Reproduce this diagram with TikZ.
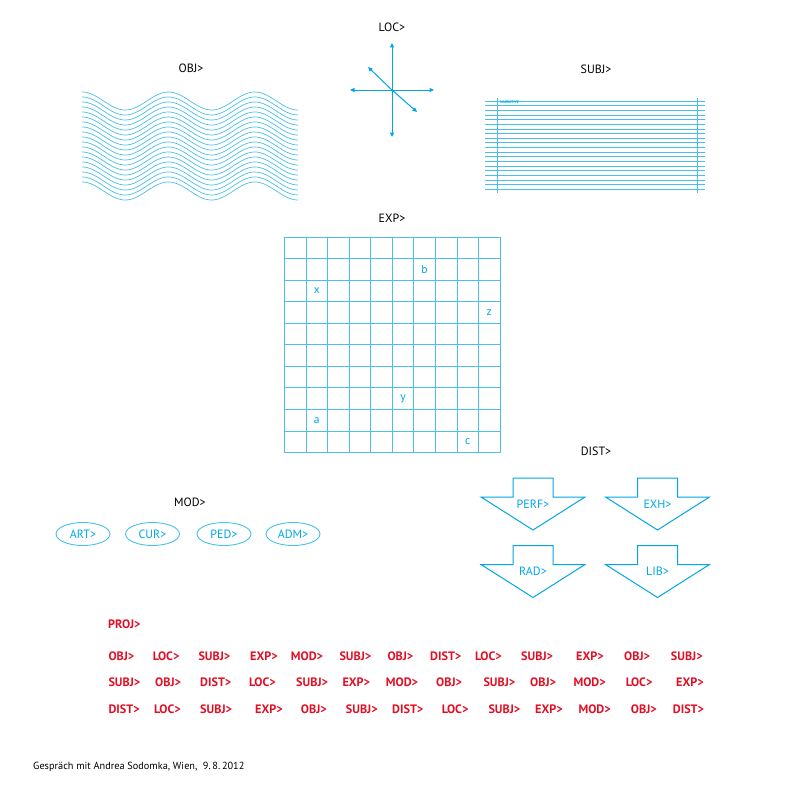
\documentclass[tikz,border=0pt]{standalone}
\usepackage{fontspec}
\setmainfont{PT Sans}
\usetikzlibrary{arrows.meta,shapes.geometric}
\definecolor{cyanline}{RGB}{72,192,234}
\definecolor{cyantext}{RGB}{0,166,230}
\definecolor{projred}{RGB}{226,14,36}
\begin{document}
\begin{tikzpicture}[x=1pt,y=-1pt,
  lbl/.style={font=\fontsize{12}{14}\selectfont, text=black, inner sep=0},
  ctext/.style={font=\fontsize{12}{14}\selectfont, text=cyantext, inner sep=0},
  gletter/.style={font=\fontsize{11.5}{13}\selectfont, text=cyantext, inner sep=0},
  wave/.style={draw=cyanline, line width=0.7pt},
  rule/.style={draw=cyanline, line width=0.8pt},
  gridline/.style={draw=cyanline, line width=0.8pt},
  locarrow/.style={draw=cyantext, line width=1pt, -{Triangle[length=4.5pt,width=4pt]}},
  darrowline/.style={draw=cyantext, line width=1pt, line join=miter},
  modell/.style={ellipse, draw=cyanline, line width=0.9pt, minimum width=54pt, minimum height=23pt, inner sep=0, font=\fontsize{12}{14}\selectfont, text=cyantext},
  proj/.style={font=\bfseries\fontsize{12.2}{14}\selectfont, text=projred, inner sep=0, anchor=west}
]
\useasboundingbox (0,0) rectangle (792,792);

% ---------- labels ----------
\node[lbl] (objlbl) at (191,68) {OBJ>};
\node[lbl] (loclbl) at (392,27) {LOC>};
\node[lbl] (subjlbl) at (596,69) {SUBJ>};
\node[lbl] (explbl) at (392,218) {EXP>};
\node[lbl] (distlbl) at (596,451) {DIST>};
\node[lbl] (modlbl) at (190,502) {MOD>};

% ---------- OBJ waves ----------
\foreach \i in {0,...,18}{
  \draw[wave] plot[domain=82:298, samples=140, variable=\t] (\t,{101+5*\i-9*cos(4.1667*(\t-82))});
}

% ---------- LOC cross ----------
\coordinate (lc) at (392,90);
\coordinate (lup) at (392,43);
\coordinate (ldown) at (392,137);
\coordinate (lleft) at (350,90);
\coordinate (lright) at (434,90);
\coordinate (lnw) at (368,67);
\coordinate (lse) at (417,112);
\draw[locarrow] (lc) -- (lup);
\draw[locarrow] (lc) -- (ldown);
\draw[locarrow] (lc) -- (lleft);
\draw[locarrow] (lc) -- (lright);
\draw[locarrow] (lc) -- (lnw);
\draw[locarrow] (lc) -- (lse);

% ---------- SUBJ ruled sheet ----------
\foreach \k in {0,...,19}{
  \draw[rule] (485,{101+4.65*\k}) -- (705,{101+4.65*\k});
}
\draw[rule] (497,98) -- (497,193);
\draw[rule] (697,98) -- (697,193);
\node[font=\bfseries\fontsize{3.8}{4}\selectfont, text=cyantext, inner sep=0, anchor=west] (tiny) at (500,102.5) {NARRATIVE};

% ---------- EXP grid ----------
\foreach \j in {0,...,10}{
  \draw[gridline] ({284.5+21.55*\j},237) -- ({284.5+21.55*\j},452.5);
  \draw[gridline] (284.5,{237+21.55*\j}) -- (500,{237+21.55*\j});
}
\node[gletter] (gb) at ({284.5+21.55*6.5},{237+21.55*1.5}) {b};
\node[gletter] (gx) at ({284.5+21.55*1.5},{237+21.55*2.5}) {x};
\node[gletter] (gz) at ({284.5+21.55*9.5},{237+21.55*3.5}) {z};
\node[gletter] (gy) at ({284.5+21.55*5.5},{237+21.55*7.5}) {y};
\node[gletter] (ga) at ({284.5+21.55*1.5},{237+21.55*8.5}) {a};
\node[gletter] (gc) at ({284.5+21.55*8.5},{237+21.55*9.5}) {c};

% ---------- DIST arrows ----------
\foreach \cx/\cy in {533/478, 657.5/478, 533/545.5, 657.5/545.5}{
  \draw[darrowline] (\cx-20,\cy) -- (\cx+20,\cy) -- (\cx+20,\cy+19) -- (\cx+52,\cy+19)
    -- (\cx,\cy+52) -- (\cx-52,\cy+19) -- (\cx-20,\cy+19) -- cycle;
}
\node[ctext] (perf) at (533,504) {PERF>};
\node[ctext] (exh) at (657.5,504) {EXH>};
\node[ctext] (rad) at (533,571) {RAD>};
\node[ctext] (lib) at (657.5,571) {LIB>};

% ---------- MOD ellipses ----------
\node[modell] (art) at (83,534) {ART>};
\node[modell] (cur) at (152.5,534) {CUR>};
\node[modell] (ped) at (224,534) {PED>};
\node[modell] (adm) at (293,534) {ADM>};

% ---------- PROJ ----------
\node[proj] (projlbl) at (108,624) {PROJ>};
\foreach \x/\w [count=\n] in {108.3/OBJ>, 152.7/LOC>, 198.3/SUBJ>, 250/EXP>, 290.7/MOD>, 339.3/SUBJ>, 387.3/OBJ>, 430/DIST>, 475/LOC>, 521/SUBJ>, 576/EXP>, 624/OBJ>, 670.7/SUBJ>}{
  \node[proj] (ra\n) at (\x,656) {\w};
}
\foreach \x/\w [count=\n] in {108.3/SUBJ>, 155/OBJ>, 200/DIST>, 249/LOC>, 296/SUBJ>, 342.3/EXP>, 385.7/MOD>, 436/OBJ>, 483.3/SUBJ>, 530/OBJ>, 573.3/MOD>, 625.7/LOC>, 676/EXP>}{
  \node[proj] (rb\n) at (\x,682.5) {\w};
}
\foreach \x/\w [count=\n] in {108.3/DIST>, 154/LOC>, 200/SUBJ>, 255/EXP>, 300.7/OBJ>, 345.7/SUBJ>, 392/DIST>, 441.7/LOC>, 488.3/SUBJ>, 535/EXP>, 578.3/MOD>, 630.7/OBJ>, 672.7/DIST>}{
  \node[proj] (rc\n) at (\x,709) {\w};
}

% ---------- footer ----------
\node[font=\fontsize{10.3}{12}\selectfont, inner sep=0, anchor=west] (footer) at (33,767) {Gespräch mit Andrea Sodomka, Wien,\ \ 9.\,8.\,2012};
\end{tikzpicture}
\end{document}
